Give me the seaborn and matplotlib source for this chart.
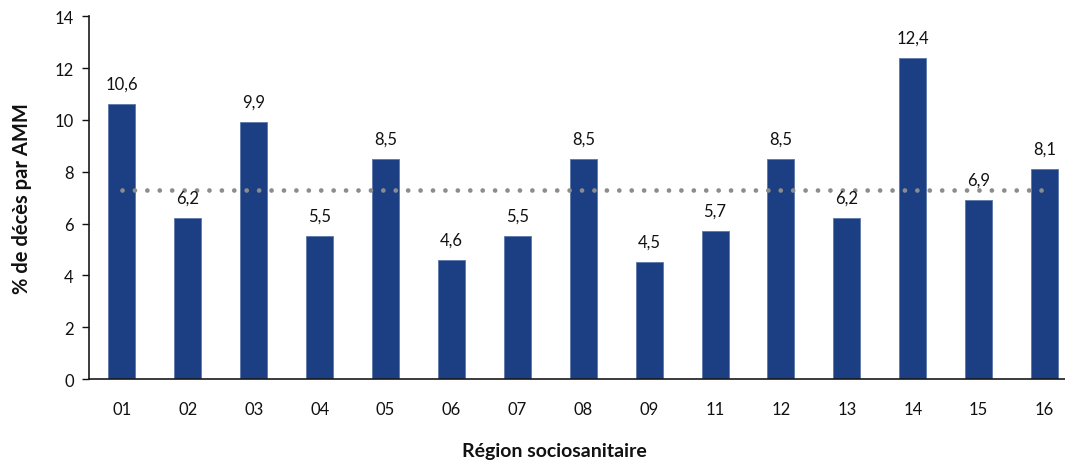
import numpy as np
import pandas as pd
import matplotlib
matplotlib.use('Agg')
import matplotlib.pyplot as plt
import seaborn as sns

# données
regions = ['01', '02', '03', '04', '05', '06', '07', '08',
           '09', '11', '12', '13', '14', '15', '16']
pct_deces = [10.6, 6.2, 9.9, 5.5, 8.5, 4.6, 5.5, 8.5,
             4.5, 5.7, 8.5, 6.2, 12.4, 6.9, 8.1]
ensemble_quebec = 7.3  # ligne pointillée (ensemble)
y_ticks = [0, 2, 4, 6, 8, 10, 12, 14]

sns.set_theme(style='white')
plt.rcParams['font.family'] = ['Lato', 'DejaVu Sans']

df = pd.DataFrame({'region': regions, 'pct': pct_deces})

fig = plt.figure(figsize=(10.65, 4.64), dpi=100)
ax = fig.add_axes([0.0836, 0.181, 0.9164, 0.782])

bar_color = '#1B3F82'
sns.barplot(data=df, x='region', y='pct', order=regions, color=bar_color,
            saturation=1, width=0.41, edgecolor='#5C78AA', linewidth=0.6,
            ax=ax)

# ligne de référence
n = len(regions)
ax.plot(np.arange(n), [ensemble_quebec] * n, color='#8C8C8C',
        linewidth=3.4, linestyle=(0, (0.01, 2.62)),
        dash_capstyle='round', zorder=3)

# étiquettes de valeurs
for i, v in enumerate(pct_deces):
    ax.annotate(f'{v:.1f}'.replace('.', ','), (i, v),
                xytext=(0, 9), textcoords='offset points',
                ha='center', va='bottom', fontsize=12, color='#111111')

ax.set_ylim(0, 14)
ax.set_yticks(y_ticks)
ax.set_xlim(-0.5, 14.31)

ax.set_xlabel('Région sociosanitaire', fontsize=14, fontweight='bold',
              color='#111111')
ax.xaxis.set_label_coords(0.477, -0.173)
ax.set_ylabel('% de décès par AMM', fontsize=14.5, fontweight='bold',
              labelpad=16, color='#111111')

ax.tick_params(axis='y', which='both', left=True, length=5, width=1,
               colors='#111111', labelsize=12, pad=6)
ax.tick_params(axis='x', bottom=False, labelsize=12, colors='#111111',
               pad=10)

for side in ['top', 'right']:
    ax.spines[side].set_visible(False)
for side in ['left', 'bottom']:
    ax.spines[side].set_color('#1a1a1a')
    ax.spines[side].set_linewidth(1.2)

plt.savefig('out.png', dpi=100)
